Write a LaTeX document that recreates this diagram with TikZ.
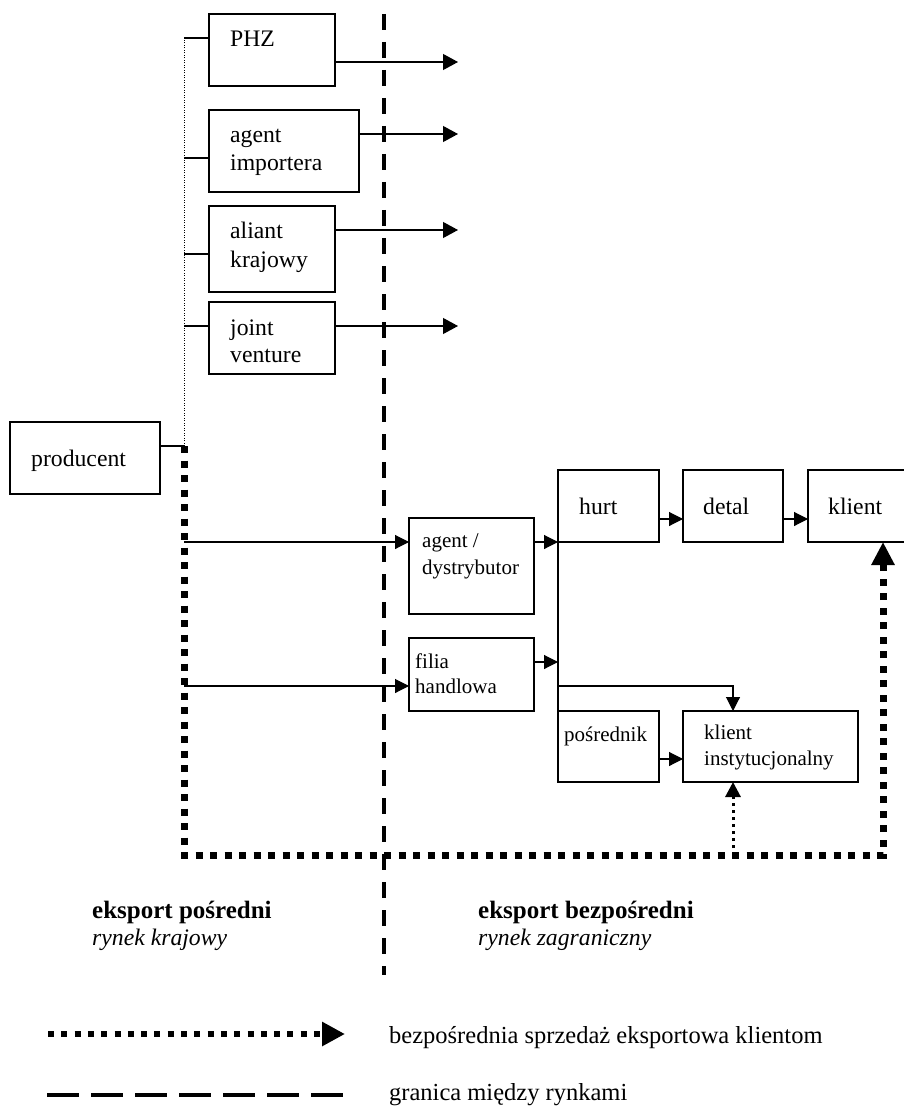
\documentclass[tikz,border=0pt]{standalone}
\usepackage{fontspec}
\setmainfont{Liberation Serif}
\usetikzlibrary{arrows.meta}
\newcommand{\bx}[5]{\pgfmathsetmacro{\bw}{#4-#2}\pgfmathsetmacro{\bh}{#5-#3}\node[box, minimum width=\bw pt, minimum height=\bh pt] (#1) at (#2,#3) {};}
\begin{document}
\begin{tikzpicture}[x=1pt,y=-1pt,
  box/.style={draw, line width=1.2pt, inner sep=0pt, outer sep=0pt, anchor=north west},
  txt/.style={anchor=base west, inner sep=0pt, font=\fontsize{23.7}{27}\selectfont},
  stxt/.style={anchor=base west, inner sep=0pt, font=\fontsize{21}{24}\selectfont},
  btxt/.style={anchor=base west, inner sep=0pt, font=\fontsize{25}{28}\selectfont\bfseries},
  itxt/.style={anchor=base west, inner sep=0pt, font=\fontsize{23.7}{27}\selectfont\itshape},
  legtxt/.style={anchor=base west, inner sep=0pt, font=\fontsize{24.5}{28}\selectfont},
  conn/.style={line width=1.1pt},
  arr/.style={conn, -{Triangle[length=14pt,width=14pt]}},
  bigarr/.style={conn, -{Triangle[length=15pt,width=16pt]}},
  thickdot/.style={line width=7pt, dash pattern=on 7pt off 7.5pt},
  smalldot/.style={line width=3pt, dash pattern=on 3pt off 4pt},
  border/.style={line width=4pt, dash pattern=on 16pt off 12pt},
  fine/.style={line width=0.9pt, dash pattern=on 1pt off 1.5pt}]
\fill[white] (0,0) rectangle (903,1107);
\useasboundingbox (0,0) rectangle (903,1107);

% boxes
\bx{phz}{209}{14}{335}{86}
\bx{ai}{209}{110}{359}{192}
\bx{ak}{209}{206}{335}{292}
\bx{jv}{209}{302}{335}{374}
\bx{prod}{10}{422}{160}{494}
\bx{ad}{409}{518}{534}{614}
\bx{filia}{409}{638}{534}{711}
\bx{hurt}{558}{470}{659}{542}
\bx{detal}{683}{470}{783}{542}
\bx{klient}{808}{470}{906}{542}
\bx{posr}{558}{711}{659}{782}
\bx{ki}{683}{711}{858}{782}

% texts
\node[txt] (t1) at (230,47) {PHZ};
\node[txt] (t2) at (230,143) {agent};
\node[txt] (t3) at (230,171) {importera};
\node[txt] (t4) at (230,239) {aliant};
\node[txt] (t5) at (230,267) {krajowy};
\node[txt] (t6) at (230,335) {joint};
\node[txt] (t7) at (230,362) {venture};
\node[txt] (t8) at (31,466) {producent};
\node[txt] (t9) at (579,514) {hurt};
\node[txt] (t10) at (703,514) {detal};
\node[txt] (t11) at (828,514) {klient};
\node[stxt] (s1) at (422,547) {agent /};
\node[stxt] (s2) at (422,574) {dystrybutor};
\node[stxt] (s3) at (415,668) {filia};
\node[stxt] (s4) at (415,693) {handlowa};
\node[stxt] (s5) at (564,741) {pośrednik};
\node[stxt] (s6) at (704,739) {klient};
\node[stxt] (s7) at (704,765) {instytucjonalny};

\node[btxt] (l1) at (92,918) {eksport pośredni};
\node[itxt] (l2) at (92,945) {rynek krajowy};
\node[btxt] (l3) at (478,918) {eksport bezpośredni};
\node[itxt] (l4) at (478,945) {rynek zagraniczny};

% market border
\coordinate (d1) at (384,14);
\coordinate (d2) at (384,975);
\draw[border] (d1) -- (d2);

% producer connections
\coordinate (pc) at (184,446);
\coordinate (top) at (184,38);
\draw[conn] (prod.east |- pc) -- (pc);
\draw[fine] (pc) -- (top);
\coordinate (j1) at (184,38);
\coordinate (j2) at (184,158);
\coordinate (j3) at (184,254);
\coordinate (j4) at (184,326);
\draw[conn] (j1) -- (j1 -| phz.west);
\draw[conn] (j2) -- (j2 -| ai.west);
\draw[conn] (j3) -- (j3 -| ak.west);
\draw[conn] (j4) -- (j4 -| jv.west);
\coordinate (e1) at (458,62);
\coordinate (e2) at (458,134);
\coordinate (e3) at (458,230);
\coordinate (e4) at (458,326);
\draw[bigarr] (e1 -| phz.east) -- (e1);
\draw[bigarr] (e2 -| ai.east) -- (e2);
\draw[bigarr] (e3 -| ak.east) -- (e3);
\draw[bigarr] (e4 -| jv.east) -- (e4);

\coordinate (b1) at (184,542);
\coordinate (b2) at (184,686);
\draw[arr] (b1) -- (b1 -| ad.west);
\draw[arr] (b2) -- (b2 -| filia.west);

% foreign channels
\coordinate (v1) at (558,542);
\coordinate (v2) at (558,662);
\coordinate (v3) at (558,686);
\coordinate (kix) at (733,686);
\draw[conn] (hurt.south west) -- (posr.north west);
\draw[arr] (v1 -| ad.east) -- (v1);
\draw[arr] (v2 -| filia.east) -- (v2);
\draw[arr] (v3) -- (kix) -- (kix |- ki.north);
\coordinate (a1) at (0,519);
\draw[arr] (hurt.east |- a1) -- (detal.west |- a1);
\draw[arr] (detal.east |- a1) -- (klient.west |- a1);
\coordinate (a2) at (0,759);
\draw[arr] (posr.east |- a2) -- (ki.west |- a2);

% direct export
\coordinate (c1) at (184,855);
\coordinate (c2) at (883,855);
\coordinate (c3) at (733,855);
\draw[smalldot, -{Triangle[length=15pt,width=15pt]}] (c3) -- (c3 |- ki.south);
\draw[thickdot, -{Triangle[length=23pt,width=22pt]}] (pc) -- (c1) -- (c2) -- (c2 |- klient.south);

% legend
\coordinate (g1) at (48,1034);
\coordinate (g2) at (345,1034);
\draw[thickdot, line width=6pt, dash pattern=on 6pt off 7.3pt, -{Triangle[length=23pt,width=23pt]}] (g1) -- (g2);
\node[legtxt] (g3) at (389,1043) {bezpośrednia sprzedaż eksportowa klientom};
\coordinate (h1) at (47,1095);
\coordinate (h2) at (343,1095);
\draw[line width=4pt, dash pattern=on 32pt off 12pt] (h1) -- (h2);
\node[legtxt] (h3) at (389,1100) {granica między rynkami};
\end{tikzpicture}
\end{document}
